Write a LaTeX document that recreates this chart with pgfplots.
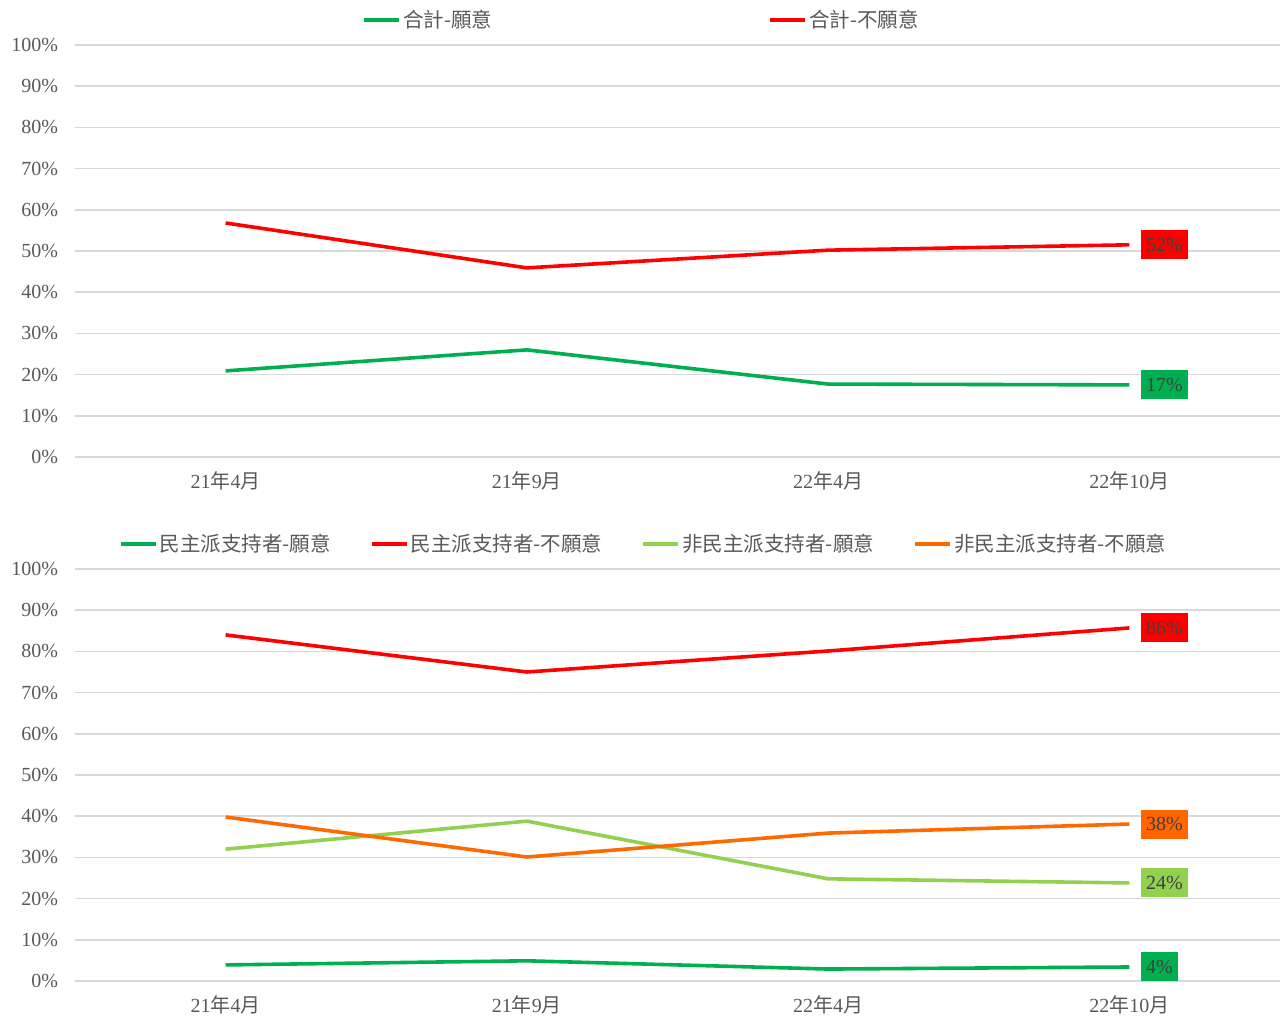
\documentclass[border=0pt]{standalone}
\usepackage{fontspec}
\setmainfont{Liberation Serif}
\newfontfamily\cjk{Noto Sans CJK TC}
\usepackage{pgfplots}
\pgfplotsset{compat=1.18}
\definecolor{cgreen}{HTML}{00B050}
\definecolor{cred}{HTML}{FF0000}
\definecolor{clgreen}{HTML}{92D050}
\definecolor{corange}{HTML}{FF6A00}
\definecolor{corangebox}{HTML}{FF6600}
\definecolor{ctext}{HTML}{595959}
\definecolor{cgrid}{HTML}{D9D9D9}
\definecolor{clab}{HTML}{404040}
\tikzset{lab/.style={pos=1, anchor=west, xshift=5pt, fill=#1, text=clab, inner xsep=2.5pt, inner ysep=0pt, minimum height=14.5pt, font=\fontsize{10}{12}\selectfont}}
\pgfplotsset{
  mystyle/.style={
    scale only axis, width=602.5pt, height=206pt,
    xmin=-0.5, xmax=3.5, ymin=0, ymax=100,
    xtick={0,1,2,3},
    xticklabels={21{\cjk 年}4{\cjk 月},21{\cjk 年}9{\cjk 月},22{\cjk 年}4{\cjk 月},22{\cjk 年}10{\cjk 月}},
    ytick={0,10,...,100},
    yticklabel={\pgfmathprintnumber{\tick}\%},
    /pgf/number format/assume math mode=true,
    axis line style={draw=none},
    major tick length=0pt,
    ymajorgrids, grid style={cgrid, line width=0.75pt},
    tick label style={font=\fontsize{10}{12}\selectfont, text=ctext},
    yticklabel style={xshift=-5pt},
    xticklabel style={yshift=-4pt},
    clip=false,
    legend style={draw=none, fill=none, font=\cjk\fontsize{10.25}{12}\selectfont, text=ctext, inner sep=0pt, nodes={inner sep=1pt}},
    legend cell align=left,
    legend image code/.code={\draw[##1, line width=2pt] (0pt,0pt) -- (17.5pt,0pt);},
  },
}
\begin{document}
\begin{tikzpicture}
\path[use as bounding box] (0,0) rectangle (641pt,509.5pt);
\begin{axis}[mystyle, at={(37.5pt,281pt)}, anchor=south west,
  legend columns=2,
  legend style={at={(0.238,1.0607)}, anchor=west, /tikz/every even column/.append style={column sep=137pt}}]
\addplot[cgreen, line width=1.8pt] coordinates {(0,20.9) (1,26.0) (2,17.7) (3,17.5)} node[lab=cgreen] {17\%};
\addlegendentry{合計-願意}
\addplot[cred, line width=1.8pt] coordinates {(0,56.8) (1,45.9) (2,50.2) (3,51.5)} node[lab=cred] {52\%};
\addlegendentry{合計-不願意}
\end{axis}
\begin{axis}[mystyle, at={(37.5pt,19pt)}, anchor=south west,
  legend columns=4,
  legend style={at={(0.036,1.0607)}, anchor=west, /tikz/every even column/.append style={column sep=18.5pt}}]
\addplot[cgreen, line width=1.8pt] coordinates {(0,3.9) (1,4.9) (2,2.9) (3,3.4)} node[lab=cgreen] {4\%};
\addlegendentry{民主派支持者-願意}
\addplot[cred, line width=1.8pt] coordinates {(0,84.0) (1,75.0) (2,80.1) (3,85.7)} node[lab=cred] {86\%};
\addlegendentry{民主派支持者-不願意}
\addplot[clgreen, line width=1.8pt] coordinates {(0,32.0) (1,38.8) (2,24.8) (3,23.8)} node[lab=clgreen] {24\%};
\addlegendentry{非民主派支持者-願意}
\addplot[corange, line width=1.8pt] coordinates {(0,39.8) (1,30.1) (2,35.9) (3,38.1)} node[lab=corangebox] {38\%};
\addlegendentry{非民主派支持者-不願意}
\end{axis}
\end{tikzpicture}
\end{document}
